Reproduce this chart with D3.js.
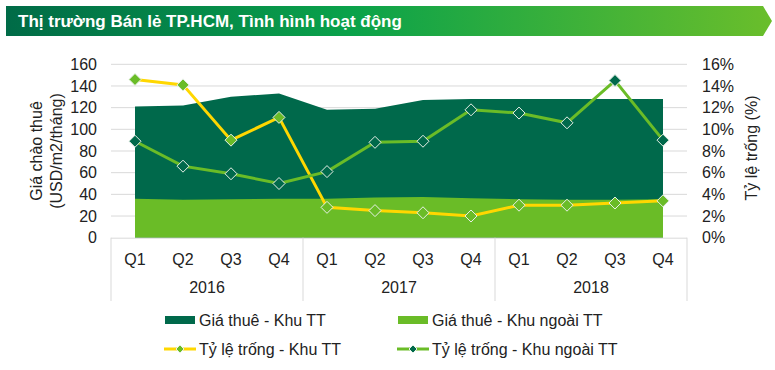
<!DOCTYPE html>
<html>
<head>
<meta charset="utf-8">
<script src="https://cdn.jsdelivr.net/npm/d3@7"></script>
<style>
  body { margin: 0; background: #fff; }
  text { font-family: "Liberation Sans", Arial, sans-serif; fill: #222; }
</style>
</head>
<body>
<div id="chart"></div>
<script>
// data
var years = ["2016", "2017", "2018"];
var quarters = ["Q1", "Q2", "Q3", "Q4"];
var rentCBD = [121, 122, 130, 133, 118, 119, 127, 128, 128, 128, 128, 128];
var rentNonCBD = [36, 35, 35.5, 36, 36, 37, 37.5, 36.5, 35.5, 35, 35, 35.5];
var vacCBD = [14.6, 14.1, 9.0, 11.1, 2.8, 2.5, 2.3, 2.0, 3.0, 3.0, 3.2, 3.4];
var vacNonCBD = [8.9, 6.6, 5.9, 5.0, 6.1, 8.8, 8.9, 11.8, 11.5, 10.6, 14.5, 9.0];
var leftTicks = [0, 20, 40, 60, 80, 100, 120, 140, 160];
var rightTicks = [0, 2, 4, 6, 8, 10, 12, 14, 16];

var darkGreen = "#00694B";
var lightGreen = "#6ABC27";
var yellow = "#FFD700";
var fontSize = "16px";

var svgWidth = 775;
var svgHeight = 370;

var plot = { left: 111, right: 687, top: 64.3, bottom: 237.7 };

var svg = d3.select("#chart")
  .append("svg")
  .attr("width", svgWidth)
  .attr("height", svgHeight);

// title banner
var defs = svg.append("defs");
var grad = defs.append("linearGradient").attr("id", "banner");
grad.append("stop").attr("offset", "0%").attr("stop-color", "#006B47");
grad.append("stop").attr("offset", "45%").attr("stop-color", "#0AA24A");
grad.append("stop").attr("offset", "100%").attr("stop-color", "#6ABE2B");

svg.append("path")
  .attr("d", "M6,6 L763,6 L772,21 L763,36 L6,36 Z")
  .attr("fill", "url(#banner)");

svg.append("text")
  .attr("x", 18)
  .attr("y", 27)
  .attr("font-size", "17px")
  .attr("font-weight", "bold")
  .style("fill", "#fff")
  .text("Thị trường Bán lẻ TP.HCM, Tình hình hoạt động");

// scales
var keys = [];
years.forEach(function(y) {
  quarters.forEach(function(q) { keys.push(y + q); });
});

var xScale = d3.scalePoint()
  .domain(keys)
  .range([plot.left, plot.right])
  .padding(0.5);

var yearScale = d3.scaleBand()
  .domain(years)
  .range([plot.left, plot.right]);

var yLeft = d3.scaleLinear().domain([0, 160]).range([plot.bottom, plot.top]);
var yRight = d3.scaleLinear().domain([0, 16]).range([plot.bottom, plot.top]);

// gridlines
svg.append("g")
  .selectAll("line")
  .data(leftTicks.slice(1))
  .enter()
  .append("line")
  .attr("x1", plot.left)
  .attr("x2", plot.right)
  .attr("y1", d => yLeft(d))
  .attr("y2", d => yLeft(d))
  .attr("stroke", "#D9D9D9")
  .attr("stroke-width", 1);

// areas (overlapping, not stacked)
var rentArea = d3.area()
  .x((d, i) => xScale(keys[i]))
  .y0(yLeft(0))
  .y1(d => yLeft(d));

svg.append("path")
  .datum(rentCBD)
  .attr("d", rentArea)
  .attr("fill", darkGreen);

svg.append("path")
  .datum(rentNonCBD)
  .attr("d", rentArea)
  .attr("fill", lightGreen);

// left axis
var leftAxis = d3.axisLeft(yLeft).tickValues(leftTicks).tickSize(0).tickPadding(14);
var gl = svg.append("g")
  .attr("transform", `translate(${plot.left}, 0)`)
  .call(leftAxis);
gl.select(".domain").remove();
gl.selectAll("text").attr("font-size", fontSize).style("fill", "#222");

// right axis
var rightAxis = d3.axisRight(yRight).tickValues(rightTicks).tickSize(0).tickPadding(15)
  .tickFormat(d => d + "%");
var gr = svg.append("g")
  .attr("transform", `translate(${plot.right}, 0)`)
  .call(rightAxis);
gr.select(".domain").remove();
gr.selectAll("text").attr("font-size", fontSize).style("fill", "#222");

// category axis
svg.append("line")
  .attr("x1", plot.left).attr("x2", plot.right)
  .attr("y1", plot.bottom + 0.5).attr("y2", plot.bottom + 0.5)
  .attr("stroke", "#D9D9D9");

var seps = years.map(y => yearScale(y)).concat([plot.right]);
svg.append("g")
  .selectAll("line")
  .data(seps)
  .enter()
  .append("line")
  .attr("x1", d => d).attr("x2", d => d)
  .attr("y1", plot.bottom).attr("y2", 301)
  .attr("stroke", "#D9D9D9");

svg.append("g")
  .selectAll("text")
  .data(keys)
  .enter()
  .append("text")
  .attr("x", d => xScale(d))
  .attr("y", 265)
  .attr("text-anchor", "middle")
  .attr("font-size", fontSize)
  .text(d => d.slice(4));

svg.append("g")
  .selectAll("text")
  .data(years)
  .enter()
  .append("text")
  .attr("x", d => yearScale(d) + yearScale.bandwidth() / 2)
  .attr("y", 293)
  .attr("text-anchor", "middle")
  .attr("font-size", fontSize)
  .text(d => d);

// axis titles
var lt = svg.append("text")
  .attr("transform", "translate(42, 151) rotate(-90)")
  .attr("text-anchor", "middle")
  .attr("font-size", fontSize);
lt.append("tspan").attr("x", 0).attr("dy", 0).text("Giá chào thuê");
lt.append("tspan").attr("x", 0).attr("dy", 20).text("(USD/m2/tháng)");

svg.append("text")
  .attr("transform", "translate(757, 148) rotate(-90)")
  .attr("text-anchor", "middle")
  .attr("font-size", fontSize)
  .text("Tỷ lệ trống (%)");

// vacancy lines
var vacLine = d3.line()
  .x((d, i) => xScale(keys[i]))
  .y(d => yRight(d));

function diamond(sel, cx, cy, r, fill) {
  sel.append("path")
    .attr("d", `M${cx},${cy - r} L${cx + r},${cy} L${cx},${cy + r} L${cx - r},${cy} Z`)
    .attr("fill", fill)
    .attr("stroke", "#E8F0E8")
    .attr("stroke-width", 1);
}

var series = [
  { values: vacCBD, line: yellow, marker: lightGreen },
  { values: vacNonCBD, line: lightGreen, marker: darkGreen }
];

series.forEach(function(s) {
  svg.append("path")
    .datum(s.values)
    .attr("d", vacLine)
    .attr("fill", "none")
    .attr("stroke", s.line)
    .attr("stroke-width", 3);
});

series.forEach(function(s) {
  var g = svg.append("g");
  s.values.forEach(function(v, i) {
    diamond(g, xScale(keys[i]), yRight(v), 6, s.marker);
  });
});

// legend
var legend = svg.append("g");
legend.append("rect").attr("x", 165).attr("y", 316).attr("width", 30).attr("height", 8).attr("fill", darkGreen);
legend.append("text").attr("x", 199).attr("y", 326).attr("font-size", fontSize).text("Giá thuê - Khu TT");
legend.append("rect").attr("x", 398).attr("y", 316).attr("width", 30).attr("height", 8).attr("fill", lightGreen);
legend.append("text").attr("x", 432).attr("y", 326).attr("font-size", fontSize).text("Giá thuê - Khu ngoài TT");

legend.append("line").attr("x1", 164).attr("x2", 196).attr("y1", 349).attr("y2", 349)
  .attr("stroke", yellow).attr("stroke-width", 3);
diamond(legend, 180, 349, 4, lightGreen);
legend.append("text").attr("x", 199).attr("y", 355).attr("font-size", fontSize).text("Tỷ lệ trống - Khu TT");

legend.append("line").attr("x1", 397).attr("x2", 429).attr("y1", 349).attr("y2", 349)
  .attr("stroke", lightGreen).attr("stroke-width", 3);
diamond(legend, 413, 349, 4, darkGreen);
legend.append("text").attr("x", 432).attr("y", 355).attr("font-size", fontSize).text("Tỷ lệ trống - Khu ngoài TT");
</script>
</body>
</html>
